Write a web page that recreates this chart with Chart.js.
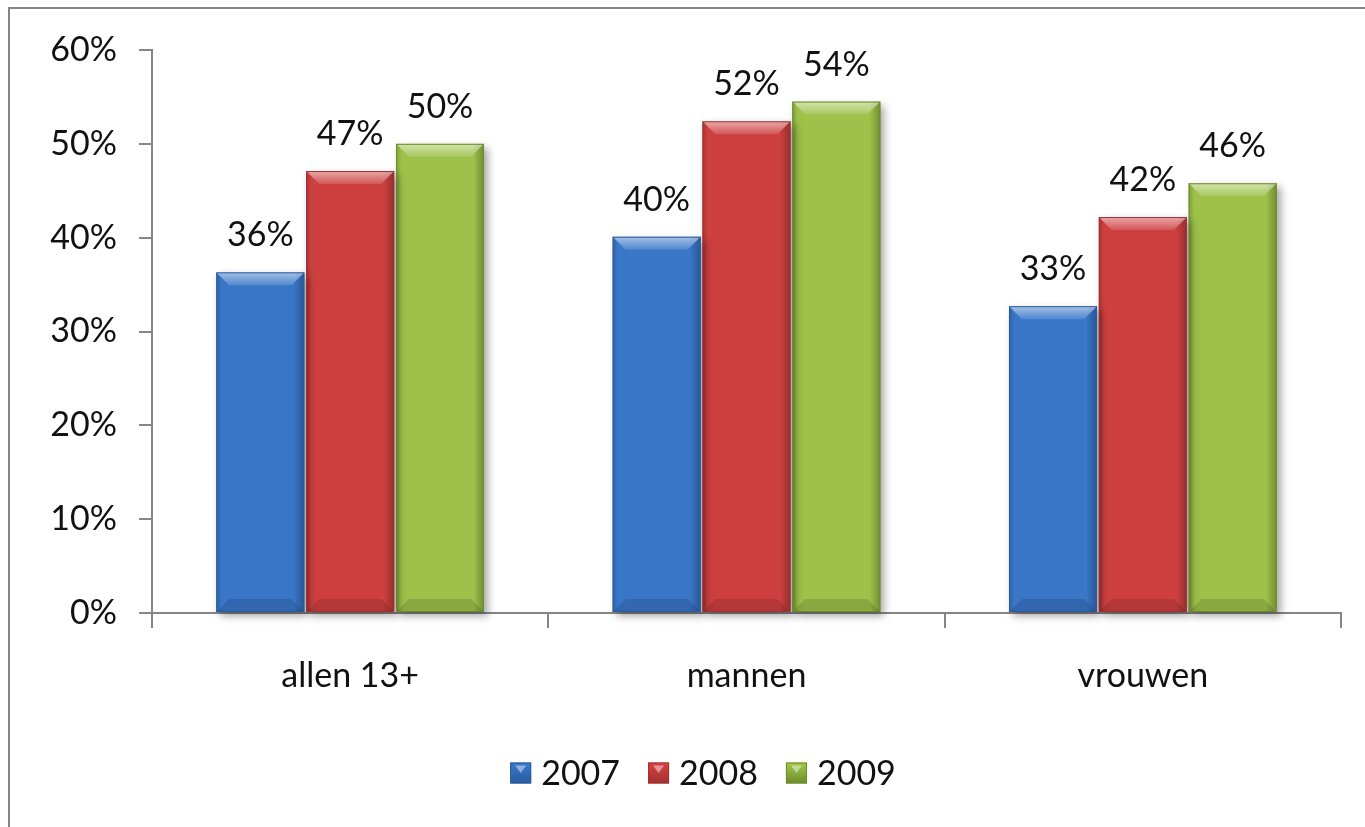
<!DOCTYPE html>
<html lang="nl">
<head>
<meta charset="UTF-8">
<title>allen 13+ / mannen / vrouwen 2007-2009</title>
<script src="https://cdn.jsdelivr.net/npm/chart.js@4"></script>
<style>
  * { margin: 0; padding: 0; box-sizing: border-box; }
  body { background: #fff; width: 1365px; height: 827px; overflow: hidden; }
  #wrap { position: relative; width: 1365px; height: 827px; }
</style>
</head>
<body>
<div id="wrap"><canvas id="chart"></canvas></div>
<script>
const categories = ['allen 13+', 'mannen', 'vrouwen']
const years = ['2007', '2008', '2009']
const values2007 = [36.3, 40.1, 32.7]
const values2008 = [47.1, 52.4, 42.2]
const values2009 = [50.0, 54.5, 45.8]
const labels2007 = ['36%', '40%', '33%']
const labels2008 = ['47%', '52%', '42%']
const labels2009 = ['50%', '54%', '46%']
const yTicks = [0, 10, 20, 30, 40, 50, 60]

const fill = ['#3b7bd0', '#d64242', '#a3c94c']
const dark = ['#2a5b9e', '#a33030', '#6c8c2a']
const axisGray = '#868686'
const font = 'Lato, "Open Sans", sans-serif'

const frame = {
  id: 'frame',
  beforeDraw (chart) {
    const c = chart.ctx
    c.save()
    c.strokeStyle = axisGray
    c.lineWidth = 2
    c.beginPath()
    c.moveTo(9, chart.height)
    c.lineTo(9, 8)
    c.lineTo(chart.width, 8)
    c.stroke()
    c.restore()
  }
}

// soft drop shadow under the bars
const shadow = {
  id: 'shadow',
  beforeDatasetsDraw (chart) {
    const c = chart.ctx
    c.save()
    c.shadowColor = 'rgba(0,0,0,0.35)'
    c.shadowBlur = 8
    c.shadowOffsetX = 4
    c.shadowOffsetY = 4
  },
  afterDatasetsDraw (chart) {
    chart.ctx.restore()
  }
}

// bevel shading + value labels
const bevel = {
  id: 'bevel',
  afterDatasetsDraw (chart) {
    const c = chart.ctx
    const labelSets = [labels2007, labels2008, labels2009]
    chart.data.datasets.forEach((ds, di) => {
      chart.getDatasetMeta(di).data.forEach((bar, i) => {
        const { x, y, base, width } = bar.getProps(['x', 'y', 'base', 'width'], true)
        const L = x - width / 2
        const R = x + width / 2
        const b = 13
        c.save()
        const hg = c.createLinearGradient(L, 0, R, 0)
        hg.addColorStop(0, 'rgba(0,0,0,0.22)')
        hg.addColorStop(0.06, 'rgba(0,0,0,0.04)')
        hg.addColorStop(0.88, 'rgba(0,0,0,0.04)')
        hg.addColorStop(1, 'rgba(0,0,0,0.30)')
        c.fillStyle = hg
        c.fillRect(L, y, width, base - y)
        // top bevel
        const tg = c.createLinearGradient(0, y, 0, y + b)
        tg.addColorStop(0, 'rgba(255,255,255,0.55)')
        tg.addColorStop(1, 'rgba(255,255,255,0.12)')
        c.fillStyle = tg
        c.beginPath()
        c.moveTo(L, y)
        c.lineTo(R, y)
        c.lineTo(R - b, y + b)
        c.lineTo(L + b, y + b)
        c.closePath()
        c.fill()
        // bottom bevel
        c.fillStyle = 'rgba(0,0,0,0.12)'
        c.beginPath()
        c.moveTo(L, base)
        c.lineTo(R, base)
        c.lineTo(R - b, base - b)
        c.lineTo(L + b, base - b)
        c.closePath()
        c.fill()
        // outline
        c.strokeStyle = dark[di]
        c.lineWidth = 1
        c.strokeRect(L + 0.5, y + 0.5, width - 1, base - y - 1)
        // label
        c.fillStyle = '#111'
        c.font = '34px ' + font
        c.textAlign = 'center'
        c.textBaseline = 'middle'
        c.fillText(labelSets[di][i], x, y - 37)
        c.restore()
      })
    })
  }
}

const legend = {
  id: 'customLegend',
  afterDraw (chart) {
    const c = chart.ctx
    c.save()
    c.font = '34px ' + font
    c.textBaseline = 'middle'
    const box = 21, gap = 10, spacing = 28
    const widths = years.map(t => box + gap + c.measureText(t).width)
    const total = widths.reduce((a, w) => a + w, 0) + spacing * (years.length - 1)
    let x = 703 - total / 2
    const cy = 773
    years.forEach((t, i) => {
      const g = c.createLinearGradient(0, cy - box / 2, 0, cy + box / 2)
      g.addColorStop(0, fill[i])
      g.addColorStop(1, dark[i])
      c.fillStyle = g
      c.fillRect(x, cy - box / 2, box, box)
      c.fillStyle = 'rgba(255,255,255,0.45)'
      c.beginPath()
      c.moveTo(x + 5, cy - box / 2 + 3)
      c.lineTo(x + box - 5, cy - box / 2 + 3)
      c.lineTo(x + box / 2, cy)
      c.closePath()
      c.fill()
      c.strokeStyle = dark[i]
      c.lineWidth = 1
      c.strokeRect(x + 0.5, cy - box / 2 + 0.5, box - 1, box - 1)
      c.fillStyle = '#111'
      c.textAlign = 'left'
      c.fillText(t, x + box + gap, cy + 1)
      x += widths[i] + spacing
    })
    c.restore()
  }
}

new Chart(document.getElementById('chart'), {
  type: 'bar',
  data: {
    labels: categories,
    datasets: [values2007, values2008, values2009].map((v, i) => ({
      label: years[i],
      data: v,
      backgroundColor: fill[i],
      borderWidth: 0,
      barPercentage: 0.98,
      categoryPercentage: 0.68,
      clip: false
    }))
  },
  options: {
    responsive: true,
    maintainAspectRatio: false,
    animation: false,
    layout: { padding: { top: 50, right: 24, bottom: 114, left: 0 } },
    plugins: { legend: { display: false }, tooltip: { enabled: false } },
    scales: {
      x: {
        afterFit: s => { s.height = 100 },
        grid: { offset: true, drawOnChartArea: false, drawTicks: true, tickLength: 15, color: axisGray, lineWidth: 2 },
        border: { display: true, color: axisGray, width: 2 },
        ticks: { color: '#111', font: { family: font, size: 34 }, padding: 28 }
      },
      y: {
        min: yTicks[0],
        max: yTicks[yTicks.length - 1],
        afterFit: s => { s.width = 152 },
        afterBuildTicks: s => { s.ticks = yTicks.map(v => ({ value: v })) },
        grid: { drawOnChartArea: false, drawTicks: true, tickLength: 13, color: axisGray, lineWidth: 2 },
        border: { display: true, color: axisGray, width: 2 },
        ticks: { color: '#111', font: { family: font, size: 34 }, padding: 22, callback: v => v + '%' }
      }
    }
  },
  plugins: [frame, shadow, bevel, legend]
})
</script>
</body>
</html>
